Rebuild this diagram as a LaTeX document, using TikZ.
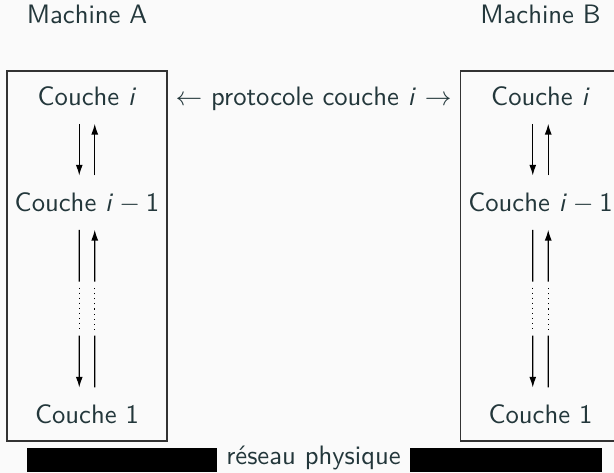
\documentclass[tikz,border=0pt]{standalone}
\usetikzlibrary{arrows.meta,calc}
\definecolor{TexteClr}{HTML}{23373B}
\definecolor{FondClr}{HTML}{FAFAFA}
\definecolor{CadreClr}{HTML}{333333}

\begin{document}
\begin{tikzpicture}[x=0.375pt,y=0.375pt,font=\sffamily,text=TexteClr,
  couche/.style={inner sep=0pt,text height=7pt,text depth=0pt,anchor=base},
  fleche/.style={-{Latex[length=4pt,width=2.6pt]},shorten <=6.5pt,shorten >=6.5pt},
  pointille/.style={dash pattern=on .4pt off 1.5pt}]

\fill[FondClr] (0,0) rectangle (614,473);
\clip (0,0) rectangle (614,473);

% les deux machines
\foreach \m/\x/\nom in {a/87/A,b/540.5/B}{
  \draw[CadreClr] (\x-80,32) rectangle (\x+80,402);
  \node[anchor=base] (mach\m) at (\x,449) {Machine \nom};
  \node[couche] (ci\m) at (\x,367) {Couche \textit{i}};
  \node[couche] (cim\m) at (\x,261) {Couche \textit{i}${}-{}$1};
  \node[couche] (cun\m) at (\x,49) {Couche 1};

  \draw[fleche] ([xshift=-2.9pt]ci\m.south) -- ([xshift=-2.9pt]cim\m.north);
  \draw[fleche] ([xshift=2.9pt]cim\m.north) -- ([xshift=2.9pt]ci\m.south);

  \coordinate (hd\m) at ([xshift=-2.9pt]cim\m.south);
  \coordinate (bd\m) at ([xshift=-2.9pt]cun\m.north);
  \draw[shorten <=6.5pt] (hd\m) -- ($(hd\m)!.36!(bd\m)$);
  \draw[pointille] ($(hd\m)!.39!(bd\m)$) -- ($(hd\m)!.61!(bd\m)$);
  \draw[fleche,shorten <=0pt] ($(hd\m)!.64!(bd\m)$) -- (bd\m);

  \coordinate (hm\m) at ([xshift=2.9pt]cim\m.south);
  \coordinate (bm\m) at ([xshift=2.9pt]cun\m.north);
  \draw[shorten <=6.5pt] (bm\m) -- ($(bm\m)!.36!(hm\m)$);
  \draw[pointille] ($(bm\m)!.39!(hm\m)$) -- ($(bm\m)!.61!(hm\m)$);
  \draw[fleche,shorten <=0pt] ($(bm\m)!.64!(hm\m)$) -- (hm\m);
}

\node[anchor=base] (proto) at (313.5,367) {$\leftarrow$ protocole couche \textit{i} $\rightarrow$};

% reseau
\fill[black] (27,1) rectangle (217,25);
\fill[black] (410,1) rectangle (602,25);
\node[anchor=base] (reseau) at (313.5,8) {réseau physique};

\end{tikzpicture}
\end{document}
